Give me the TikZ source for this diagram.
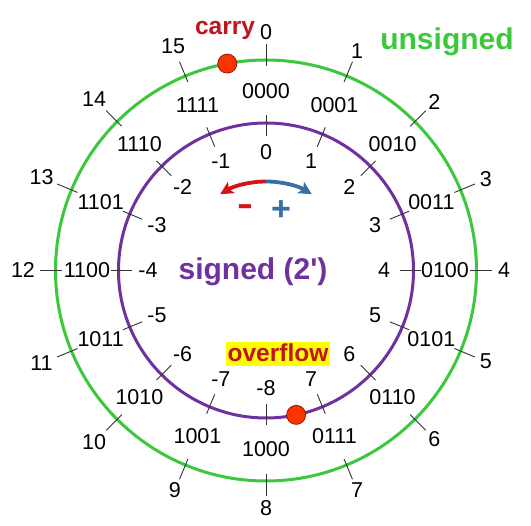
\documentclass[tikz,border=0pt]{standalone}
\usepackage{fontspec}
\setmainfont{Liberation Sans}
\usetikzlibrary{arrows.meta}
\definecolor{ugreen}{HTML}{3CC83C}
\definecolor{spurple}{HTML}{7030A0}
\definecolor{cred}{HTML}{C0141E}
\definecolor{dotred}{HTML}{FF3300}
\definecolor{dotedge}{HTML}{8B1A00}
\definecolor{arrblue}{HTML}{3A6EA8}
\definecolor{arrred}{HTML}{D41414}
\definecolor{hlyellow}{HTML}{FFFF00}
\begin{document}
\begin{tikzpicture}[x=1pt,y=1pt,
  numlabel/.style={font=\fontsize{21.5}{24}\selectfont, inner sep=0pt},
  tickline/.style={draw=black!80, line width=0.9pt},
  ringline/.style={line width=3pt},
  reddot/.style={circle, fill=dotred, draw=dotedge, line width=0.8pt, minimum size=19pt, inner sep=0pt},
  bigword/.style={font=\fontsize{30}{34}\selectfont\bfseries, inner sep=0pt},
  dirarrow/.style={line width=3.8pt, -{Stealth[length=13pt,width=13pt,inset=3pt]}}
]
\useasboundingbox (0,0) rectangle (531,526);
\coordinate (O) at (266,255.5);
\begin{scope}[shift={(O)}]
  \draw[ringline, ugreen] (0,0) circle (210.5);
  \draw[ringline, spurple] (0,0) circle (147.5);
  \foreach \k/\b/\s in {0/0000/0,1/0001/1,2/0010/2,3/0011/3,4/0100/4,5/0101/5,6/0110/6,7/0111/7,8/1000/-8,9/1001/-7,10/1010/-6,11/1011/-5,12/1100/-4,13/1101/-3,14/1110/-2,15/1111/-1}{
    \pgfmathsetmacro\a{90-22.5*\k}
    \pgfmathsetmacro\ru{\k<10 ? 238 : 243}
    \node[numlabel] (u\k) at (\a:\ru) {\k};
    \node[numlabel] (b\k) at (\a:179) {\b};
    \node[numlabel] (s\k) at (\a:118) {\s};
    \coordinate (to\k) at (\a:226);
    \coordinate (ti\k) at (\a:204);
    \coordinate (io\k) at (\a:155);
    \coordinate (ii\k) at (\a:134);
    \draw[tickline] (to\k) -- (ti\k);
    \draw[tickline] (io\k) -- (ii\k);
  }
  \node[reddot] (carrydot) at (100.6:210.5) {};
  \node[reddot] (ovfdot) at (-78.2:147.5) {};
  \coordinate (atop) at (90:89);
  \draw[dirarrow, arrred] (atop) arc[start angle=90, end angle=121, radius=89];
  \draw[dirarrow, arrblue] (atop) arc[start angle=90, end angle=59, radius=89];
\end{scope}
\node[font=\fontsize{24.5}{28}\selectfont\bfseries, text=cred, inner sep=0pt] (carry) at (225,496) {carry};
\node[bigword, text=ugreen] (unsigned) at (447,484) {unsigned};
\node[bigword, text=spurple] (signed) at (253,254) {signed (2\textquotesingle)};
\node[font=\fontsize{24.5}{28}\selectfont\bfseries, text=cred, fill=hlyellow, inner xsep=1.5pt, inner ysep=0pt, text height=19.5pt, text depth=4.3pt, anchor=base] (overflow) at (278,164.3) {overflow};
\node[font=\fontsize{34}{36}\selectfont\bfseries, text=arrred, inner sep=0pt] (minus) at (245,316) {\scalebox{1.4}[1]{-}};
\node[font=\fontsize{34}{36}\selectfont\bfseries, text=arrblue, inner sep=0pt] (plus) at (281,315) {+};
\end{tikzpicture}
\end{document}
